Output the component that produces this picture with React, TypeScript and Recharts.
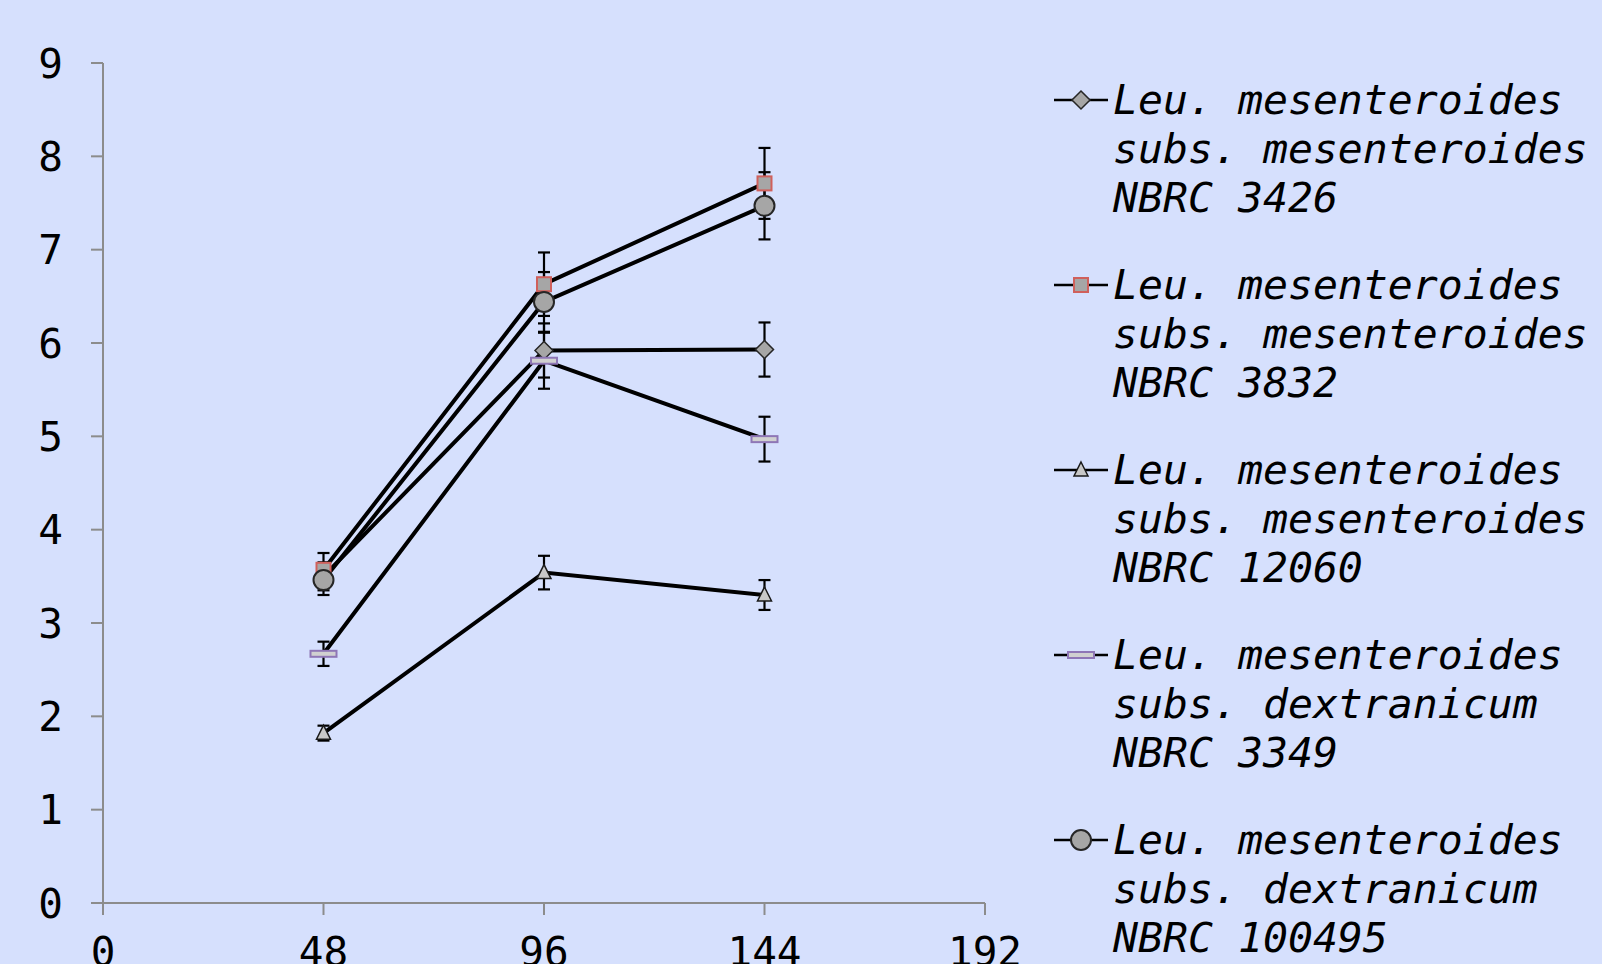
import React from 'react';
import { LineChart, Line, XAxis, YAxis, ErrorBar, Legend } from 'recharts';

// DATA
const hours = [48, 96, 144];
const xTicks = [0, 48, 96, 144, 192];
const yTicks = [0, 1, 2, 3, 4, 5, 6, 7, 8, 9];

const nbrc3426 = [3.5, 5.92, 5.93];
const err3426 = [0.15, 0.29, 0.29];
const nbrc3832 = [3.57, 6.63, 7.71];
const err3832 = [0.18, 0.34, 0.38];
const nbrc12060 = [1.82, 3.54, 3.3];
const err12060 = [0.08, 0.18, 0.16];
const nbrc3349 = [2.67, 5.81, 4.97];
const err3349 = [0.13, 0.3, 0.24];
const nbrc100495 = [3.46, 6.44, 7.47];
const err100495 = [0.16, 0.32, 0.36];

const seriesNames = [
    ['Leu. mesenteroides', 'subs. mesenteroides', 'NBRC 3426'],
    ['Leu. mesenteroides', 'subs. mesenteroides', 'NBRC 3832'],
    ['Leu. mesenteroides', 'subs. mesenteroides', 'NBRC 12060'],
    ['Leu. mesenteroides', 'subs. dextranicum', 'NBRC 3349'],
    ['Leu. mesenteroides', 'subs. dextranicum', 'NBRC 100495'],
];

const data = hours.map((h, i) => ({
    hour: h,
    s3426: nbrc3426[i], e3426: err3426[i],
    s3832: nbrc3832[i], e3832: err3832[i],
    s12060: nbrc12060[i], e12060: err12060[i],
    s3349: nbrc3349[i], e3349: err3349[i],
    s100495: nbrc100495[i], e100495: err100495[i],
}));

const FONT = '"DejaVu Sans Mono", monospace';
const BG = '#d6e0fd';
const AXIS = '#8c8c8c';

// MARKERS
type Mk = { cx: number; cy: number };
const Diamond = ({ cx, cy }: Mk) => (
    <polygon points={`${cx},${cy - 9} ${cx + 9},${cy} ${cx},${cy + 9} ${cx - 9},${cy}`} fill="#a6a6a6" stroke="#262626" strokeWidth={1.5} />
);
const Square = ({ cx, cy }: Mk) => (
    <rect x={cx - 7} y={cy - 7} width={14} height={14} fill="#a6a6a6" stroke="#d0605c" strokeWidth={2} />
);
const Triangle = ({ cx, cy }: Mk) => (
    <polygon points={`${cx},${cy - 8} ${cx + 7},${cy + 6} ${cx - 7},${cy + 6}`} fill="#c8c8c8" stroke="#1a1a1a" strokeWidth={1.5} />
);
const Dash = ({ cx, cy }: Mk) => (
    <rect x={cx - 13} y={cy - 3} width={26} height={6} fill="#d0d0d0" stroke="#8e76b6" strokeWidth={2} />
);
const Circle = ({ cx, cy }: Mk) => (
    <circle cx={cx} cy={cy} r={10} fill="#a6a6a6" stroke="#262626" strokeWidth={2} />
);

const markers = [Diamond, Square, Triangle, Dash, Circle];
const keys = ['3426', '3832', '12060', '3349', '100495'];

const dotFor = (M: React.FC<Mk>, k: string) => (p: any) =>
    p.cx == null ? <g key={`${k}-${p.index}`} /> : <M key={`${k}-${p.index}`} cx={p.cx} cy={p.cy} />;

const LegendBox = () => (
    <div style={{ fontFamily: FONT, fontSize: 41.5, fontStyle: 'italic', lineHeight: '49.2px', color: '#000' }}>
        {seriesNames.map((lines, i) => {
            const M = markers[i];
            return (
                <div key={i} style={{ display: 'flex', marginBottom: 37.4 }}>
                    <svg width={61} height={49} style={{ flex: 'none' }}>
                        <line x1={2} y1={25} x2={56} y2={25} stroke="#000" strokeWidth={2.5} />
                        <M cx={29} cy={25} />
                    </svg>
                    <div style={{ whiteSpace: 'pre' }}>{lines.join('\n')}</div>
                </div>
            );
        })}
    </div>
);

// COMPONENT
const App: React.FC = () => {
    return (
        <div style={{ position: 'absolute', left: 0, top: 0, width: 1602, height: 964, background: BG, overflow: 'hidden' }}>
            <LineChart width={1602} height={964} data={data} margin={{ top: 63, right: 617, left: 0, bottom: 0 }}>
                <XAxis
                    dataKey="hour" type="number" domain={[0, 192]} ticks={xTicks} interval={0}
                    stroke={AXIS} strokeWidth={2} tickSize={12} tickMargin={22} height={61}
                    tick={{ fill: '#000', fontSize: 41, fontFamily: FONT }}
                />
                <YAxis
                    type="number" domain={[0, 9]} ticks={yTicks} interval={0}
                    stroke={AXIS} strokeWidth={2} tickSize={12} tickMargin={28} width={103}
                    tick={{ fill: '#000', fontSize: 41, fontFamily: FONT }}
                />
                <Legend
                    layout="vertical" align="center" verticalAlign="middle"
                    wrapperStyle={{ left: 1052, top: 75, width: 550 }}
                    content={() => <LegendBox />}
                />
                {keys.map((k, i) => (
                    <Line
                        key={k} type="linear" dataKey={`s${k}`} name={seriesNames[i].join(' ')}
                        stroke="#000" strokeWidth={4} isAnimationActive={false}
                        dot={dotFor(markers[i], k)} activeDot={false}
                    >
                        <ErrorBar dataKey={`e${k}`} direction="y" width={6} stroke="#000" strokeWidth={2.2} />
                    </Line>
                ))}
            </LineChart>
        </div>
    );
};

export default App;
